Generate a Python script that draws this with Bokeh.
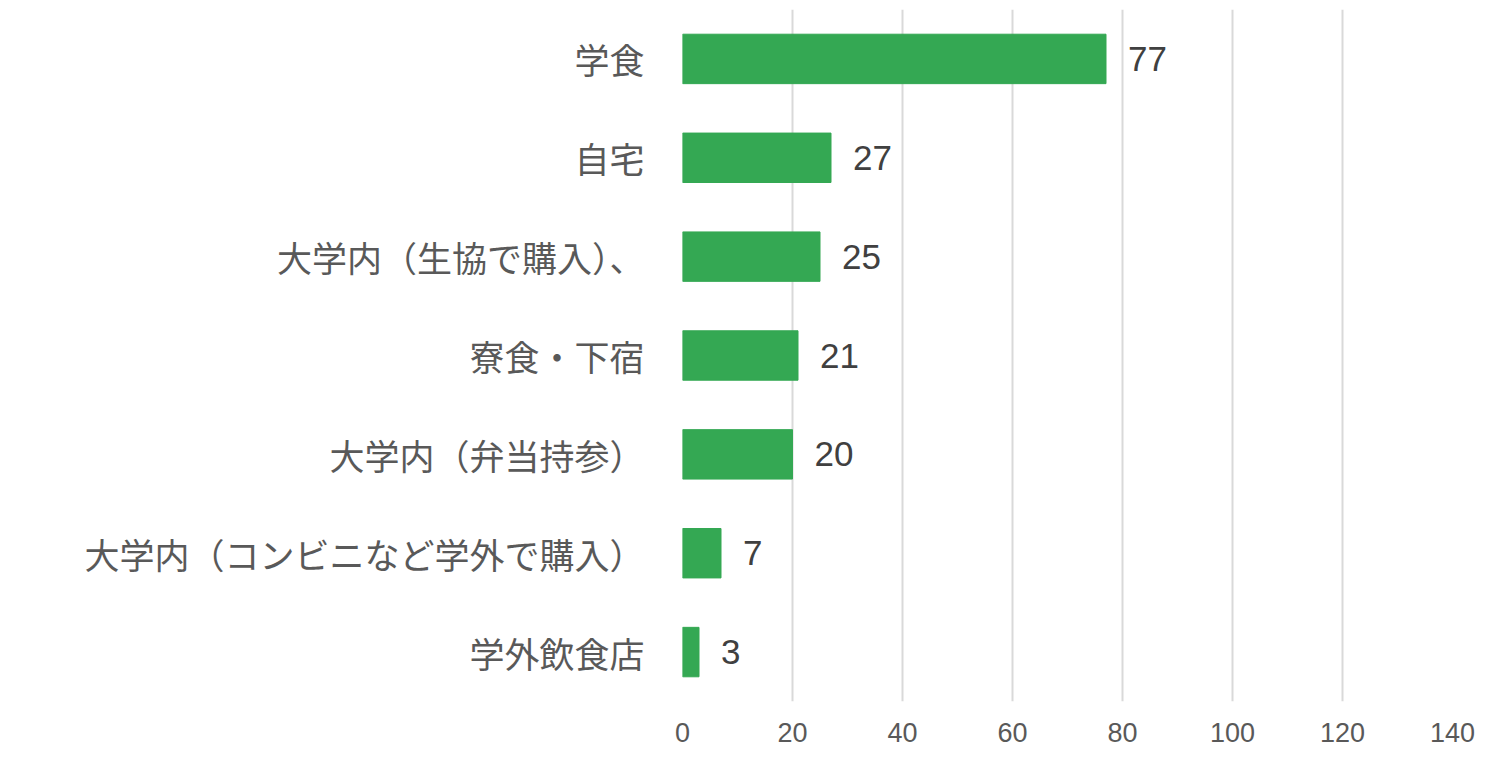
from bokeh.plotting import figure
from bokeh.models import ColumnDataSource, FactorRange, Range1d, FixedTicker, LabelSet
from bokeh.core.properties import value
from bokeh.embed import file_html
from bokeh.resources import INLINE

categories = ["学食", "自宅", "大学内（生協で購入）、", "寮食・下宿", "大学内（弁当持参）",
              "大学内（コンビニなど学外で購入）", "学外飲食店"]
values = [77, 27, 25, 21, 20, 7, 3]
x_ticks = [0, 20, 40, 60, 80, 100, 120, 140]

src = ColumnDataSource(dict(cat=categories, val=values, lbl=[str(v) for v in values]))

p = figure(width=1476, height=749, output_backend="svg", toolbar_location=None,
           y_range=FactorRange(*reversed(categories), range_padding=0),
           x_range=Range1d(0, 140),
           min_border_left=682, min_border_right=24, min_border_top=9, min_border_bottom=48)
p.outline_line_color = None
p.background_fill_color = "white"
p.border_fill_color = "white"

p.hbar(y="cat", right="val", left=0, height=0.5, source=src,
       fill_color="#34a853", line_color="#34a853")

labels = LabelSet(x="val", y="cat", text="lbl", source=src, x_offset=22,
                  text_baseline="middle", text_align="left",
                  text_font=value("Liberation Sans"), text_font_size="35px",
                  text_color="#404040")
p.add_layout(labels)

p.xaxis.ticker = FixedTicker(ticks=x_ticks)
p.xaxis.axis_line_color = None
p.xaxis.major_tick_line_color = None
p.xaxis.minor_tick_line_color = None
p.xaxis.major_label_standoff = 15
p.xaxis.major_label_text_font = "Liberation Sans"
p.xaxis.major_label_text_font_size = "27px"
p.xaxis.major_label_text_color = "#595959"

p.yaxis.axis_line_color = None
p.yaxis.major_tick_line_color = None
p.yaxis.minor_tick_line_color = None
p.yaxis.major_label_standoff = 32
p.yaxis.major_label_text_font = "Noto Sans CJK JP"
p.yaxis.major_label_text_font_size = "35px"
p.yaxis.major_label_text_color = "#595959"

p.xgrid.ticker = FixedTicker(ticks=x_ticks)
p.xgrid.grid_line_color = "#d9d9d9"
p.xgrid.grid_line_width = 2
p.ygrid.grid_line_color = None

open("out.html", "w").write(file_html(p, INLINE))
